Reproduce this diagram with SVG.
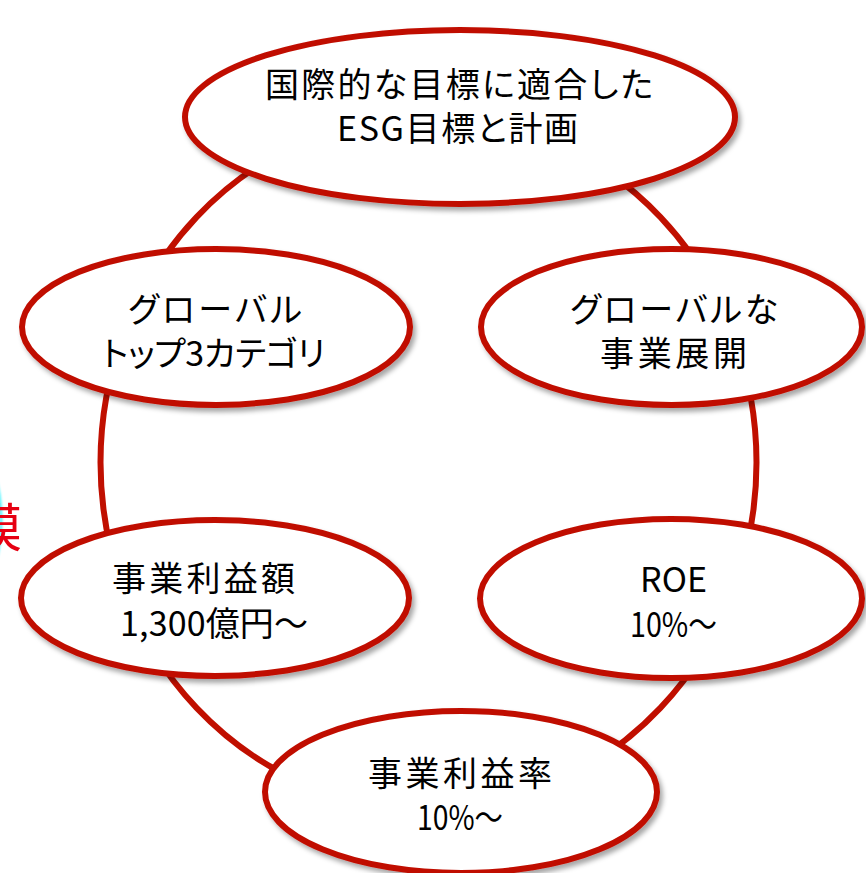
<svg xmlns="http://www.w3.org/2000/svg" width="866" height="873" viewBox="0 0 866 873">
  <defs>
    <filter id="shadow" x="-10%" y="-10%" width="125%" height="130%">
      <feDropShadow dx="3" dy="4" stdDeviation="2.5" flood-color="#000" flood-opacity="0.35"/>
    </filter>
    <filter id="glow" x="-50%" y="-20%" width="200%" height="140%">
      <feGaussianBlur stdDeviation="1.2"/>
    </filter>
    <style>
      .node { fill: #ffffff; stroke: #C00F00; stroke-width: 6; filter: url(#shadow); }
      .ring { fill: none; stroke: #C00F00; stroke-width: 6; }
      .lbl { font-family: "Noto Sans CJK JP", "Noto Sans", sans-serif; font-size: 34px; fill: #000000; font-feature-settings: "palt" 1; }
      .red { font-family: "Noto Sans CJK JP", sans-serif; font-size: 52px; fill: #E60012; }
    </style>
  </defs>
  <rect x="0" y="0" width="866" height="873" fill="#ffffff"/>

  <g id="background-fragment">
    <ellipse cx="-70" cy="520" rx="71" ry="105" fill="none" stroke="#5ff5ff" stroke-width="3" filter="url(#glow)"/>
    <text class="red" x="22" y="547" text-anchor="end">模</text>
  </g>

  <g id="connectors">
    <ellipse class="ring" cx="428.5" cy="462.5" rx="328" ry="347"/>
  </g>

  <g id="node-esg">
    <ellipse class="node" cx="460" cy="117" rx="275" ry="87"/>
    <text class="lbl" x="265" y="97" textLength="388" lengthAdjust="spacing">国際的な目標に適合した</text>
    <text class="lbl" x="337" y="141" textLength="241" lengthAdjust="spacing">ESG目標と計画</text>
  </g>

  <g id="node-top3">
    <ellipse class="node" cx="216" cy="327" rx="194" ry="78"/>
    <text class="lbl" x="128" y="322" textLength="174" lengthAdjust="spacing">グローバル</text>
    <text class="lbl" x="102" y="366" textLength="223" lengthAdjust="spacing">トップ3カテゴリ</text>
  </g>

  <g id="node-global">
    <ellipse class="node" cx="671.5" cy="327" rx="190.5" ry="78"/>
    <text class="lbl" x="570" y="322" textLength="208" lengthAdjust="spacing">グローバルな</text>
    <text class="lbl" x="600" y="366" textLength="147" lengthAdjust="spacing">事業展開</text>
  </g>

  <g id="node-profit">
    <ellipse class="node" cx="215" cy="598" rx="194" ry="78"/>
    <text class="lbl" x="112" y="591" textLength="183" lengthAdjust="spacing">事業利益額</text>
    <text class="lbl" x="120" y="636" textLength="188" lengthAdjust="spacing">1,300億円～</text>
  </g>

  <g id="node-roe">
    <ellipse class="node" cx="671" cy="598.5" rx="191" ry="79.5"/>
    <text class="lbl" x="640" y="592" textLength="67" lengthAdjust="spacing">ROE</text>
    <text class="lbl" x="630" y="637" textLength="87" lengthAdjust="spacingAndGlyphs">10%～</text>
  </g>

  <g id="node-margin">
    <ellipse class="node" cx="461" cy="792" rx="196" ry="81"/>
    <text class="lbl" x="368" y="786" textLength="184" lengthAdjust="spacing">事業利益率</text>
    <text class="lbl" x="417" y="830" textLength="86" lengthAdjust="spacingAndGlyphs">10%～</text>
  </g>
</svg>
